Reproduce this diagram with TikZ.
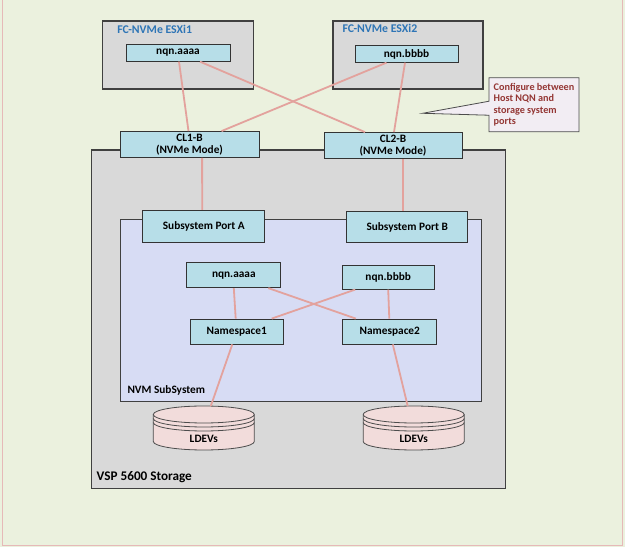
\documentclass[tikz,border=0pt]{standalone}
\usepackage{fontspec}
\setmainfont{Carlito}
\usetikzlibrary{shapes.callouts}
\definecolor{bggreen}{HTML}{EBF1DE}
\definecolor{edgepink}{HTML}{E6B9B8}
\definecolor{boxgray}{HTML}{D9D9D9}
\definecolor{portblue}{HTML}{B7DEE8}
\definecolor{nvmblue}{HTML}{D7DCF4}
\definecolor{linkred}{HTML}{E3A29D}
\definecolor{hostblue}{HTML}{2E75B6}
\definecolor{notered}{HTML}{943634}
\definecolor{notepink}{HTML}{F2EDF3}
\definecolor{diskpink}{HTML}{F2DCDB}
\begin{document}
\begin{tikzpicture}[x=1pt, y=1pt, font=\bfseries\fontsize{11.3}{12.4}\selectfont,
    frame/.style={draw=black!75, fill=boxgray, line width=1.2pt, minimum width=151pt, minimum height=68pt},
    port/.style={draw=black!80, fill=portblue, line width=.8pt, inner sep=0pt, align=center},
    link/.style={draw=linkred, line width=1.8pt},
    tag/.style={anchor=west, inner sep=0pt},
    disk/.style={draw=black!70, line width=.8pt}]
\useasboundingbox (0,0) rectangle (625,547);
\fill[bggreen] (0,0) rectangle (625,547);
\draw[edgepink, line width=1pt] (2.3,547)--(2.3,1.3)--(622.7,1.3)--(622.7,547);

\node[frame] (esx1) at (178.3,492) {};
\node[frame, minimum width=150pt] (esx2) at (408,492) {};
\node[tag, text=hostblue, font=\bfseries\fontsize{11.8}{13}\selectfont] (esx1lbl) at ([shift={(15pt,-9pt)}]esx1.north west) {FC-NVMe ESXi1};
\node[tag, text=hostblue, font=\bfseries\fontsize{11.8}{13}\selectfont] (esx2lbl) at ([shift={(10pt,-8pt)}]esx2.north west) {FC-NVMe ESXi2};
\node[port, minimum width=104pt, minimum height=16.5pt] (hnqa) at (178,494) {nqn.aaaa};
\node[port, minimum width=103pt, minimum height=16.5pt] (hnqb) at (406.5,493) {nqn.bbbb};

\node[frame, minimum width=414pt, minimum height=338.6pt] (vsp) at (298.6,227.7) {};
\node[tag, font=\bfseries\fontsize{13.2}{15}\selectfont] (vsplbl) at ([shift={(5.5pt,12pt)}]vsp.south west) {VSP 5600 Storage};
\node[port, minimum width=139pt, minimum height=26pt] (cl1) at (189.5,402.5) {CL1-B\\(NVMe Mode)};
\node[port, minimum width=138pt, minimum height=26pt] (cl2) at (393,401.5) {CL2-B\\(NVMe Mode)};

\node[draw=black!75, fill=nvmblue, line width=.8pt, minimum width=361pt, minimum height=182.7pt] (nvm) at (300.5,236.6) {};
\node[tag, font=\bfseries\fontsize{11.3}{13}\selectfont] (nvmlbl) at ([shift={(7.7pt,11.7pt)}]nvm.south west) {NVM SubSystem};
\node[port, minimum width=122pt, minimum height=32pt] (porta) at (203.8,320.8) {Subsystem Port A};
\node[port, minimum width=121pt, minimum height=31pt] (portb) at (407.2,320) {Subsystem Port B};
\node[port, minimum width=94pt, minimum height=25pt] (snqa) at (233.8,271.8) {nqn.aaaa};
\node[port, minimum width=92pt, minimum height=24pt] (snqb) at (388.2,269.8) {nqn.bbbb};
\node[port, minimum width=93pt, minimum height=25pt] (ns1) at (236.7,215.5) {Namespace1};
\node[port, minimum width=94pt, minimum height=25pt] (ns2) at (389.8,215.5) {Namespace2};

\foreach \cx/\n in {203.8/1, 413.7/2}
{
    \filldraw[disk, fill=diskpink] (\cx-50.5,132.5) -- (\cx-50.5,105.5) arc[start angle=180, end angle=360, x radius=50.5pt, y radius=8.5pt]
        -- (\cx+50.5,132.5) arc[start angle=0, end angle=180, x radius=50.5pt, y radius=8.5pt] -- cycle;
    \draw[disk] (\cx-50.5,132.5) arc[start angle=180, end angle=360, x radius=50.5pt, y radius=8.5pt];
    \draw[disk] (\cx-50.5,128.5) arc[start angle=180, end angle=360, x radius=50.5pt, y radius=8.5pt];
    \draw[disk] (\cx-50.5,124.5) arc[start angle=180, end angle=360, x radius=50.5pt, y radius=8.5pt];
    \node (ldev\n) at (\cx,107.7) {LDEVs};
    \coordinate (ldevtop\n) at (\cx,141);
}

\node[rectangle callout, draw=black!70, fill=notepink, line width=.8pt, text=notered, font=\bfseries\fontsize{10.2}{11.2}\selectfont,
    align=left, minimum width=90pt, minimum height=54pt, callout absolute pointer={(422.7,433.7)}, callout pointer width=14pt]
    (note) at (534,442.2) {Configure between\\Host NQN and\\storage system\\ports};

\draw[link] ([xshift=1pt]hnqa.south) -- ([xshift=-1pt]cl1.north);
\draw[link] ([xshift=22pt]hnqa.south) -- ([xshift=-28pt]cl2.north);
\draw[link] ([xshift=-20pt]hnqb.south) -- ([xshift=32pt]cl1.north);
\draw[link] ([xshift=-1.5pt]hnqb.south) -- ([xshift=1pt]cl2.north);
\draw[link] ([xshift=12.6pt]cl1.south) -- ([xshift=-1.6pt]porta.north);
\draw[link] ([xshift=10pt]cl2.south) -- ([xshift=-4.2pt]portb.north);
\draw[link] (snqa.south) -- ([xshift=-1pt]ns1.north);
\draw[link] ([xshift=34.5pt]snqa.south) -- ([xshift=-34pt]ns2.north);
\draw[link] ([xshift=-33pt]snqb.south) -- ([xshift=35pt]ns1.north);
\draw[link] (snqb.south) -- ([xshift=-.5pt]ns2.north);
\draw[link] ([xshift=-4.4pt]ns1.south) -- ([xshift=7pt]ldevtop1);
\draw[link] ([xshift=3pt]ns2.south) -- ([xshift=-6pt]ldevtop2);
\end{tikzpicture}
\end{document}
